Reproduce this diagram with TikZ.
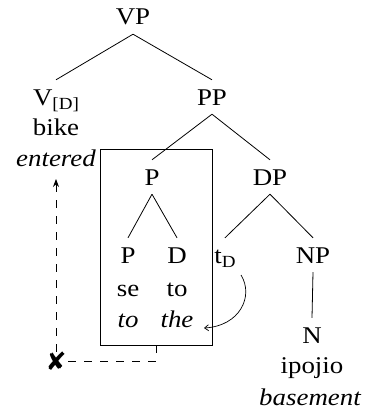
\documentclass[tikz,border=0pt]{standalone}
\usepackage{fontspec}
\setmainfont[FakeStretch=1.12]{Liberation Serif}
\newfontfamily\symfont{DejaVu Sans}
\usetikzlibrary{arrows.meta}
\newcommand{\lowsub}[1]{\raisebox{-4pt}{\fontsize{17}{17}\selectfont #1}}
\begin{document}
\begin{tikzpicture}[x=1pt,y=-1pt,
  font=\fontsize{24}{31}\selectfont,
  cat/.style={anchor=base, inner xsep=0pt, inner ysep=9pt, text height=16pt, text depth=0pt},
  word/.style={anchor=base, inner sep=0pt},
  branch/.style={line width=0.8pt},
  move/.style={line width=0.8pt, dash pattern=on 8pt off 8pt}]
\useasboundingbox (0,0) rectangle (364,412);

% categories
\node[cat] (vp) at (133,25) {VP};
\node[cat] (v) at (56,105) {V\lowsub{[D]}};
\node[word] (bike) at (56,135) {bike};
\node[word] (entered) at (56,166) {\itshape entered};
\node[cat] (pp) at (212,105) {PP};
\node[cat] (p) at (152,185) {P};
\node[cat] (dp) at (270,185) {DP};
\node[cat] (p2) at (128,263) {P};
\node[cat] (d) at (177,263) {D};
\node[cat] (t) at (225,263) {t\lowsub{D}};
\node[cat] (np) at (313,263) {NP};
\node[word] (se) at (128,296) {se};
\node[word] (to) at (177,296) {to};
\node[word] (toit) at (128,327) {\itshape to};
\node[word] (the) at (177,327) {\itshape the};
\node[cat] (n) at (312,343) {N};
\node[word] (ipojio) at (312,373) {ipojio};
\node[word] (basement) at (310,405) {\itshape basement};

% branches
\draw[branch] (vp.south) -- (v.north);
\draw[branch] (vp.south) -- (pp.north);
\draw[branch] (pp.south) -- (p.north);
\draw[branch] (pp.south) -- (dp.north);
\draw[branch] (p.south) -- (p2.north);
\draw[branch] (p.south) -- (d.north);
\draw[branch] (dp.south) -- (t.north);
\draw[branch] (dp.south) -- (np.north);
\draw[branch] (np.south) -- (n.north);

% complex head
\node[draw, line width=0.9pt, minimum width=112pt, minimum height=196pt, inner sep=0pt] (box) at (156,247) {};

% failed movement
\node[inner sep=0pt] (x) at (56,361) {\symfont\fontsize{25}{25}\selectfont ✘};
\coordinate (corner) at (box.south |- x);
\coordinate (up) at (x |- 0,179);
\draw[move] (box.south) -- (corner) -- (x.east);
\draw[move, -{Stealth[length=8pt,width=6pt]}] (x.north) -- (up);

% trace
\draw[line width=0.7pt, -{Straight Barb[length=4pt,width=6pt]}]
  (241,275) .. controls (254,296) and (240,326) .. (204,328);
\end{tikzpicture}
\end{document}
